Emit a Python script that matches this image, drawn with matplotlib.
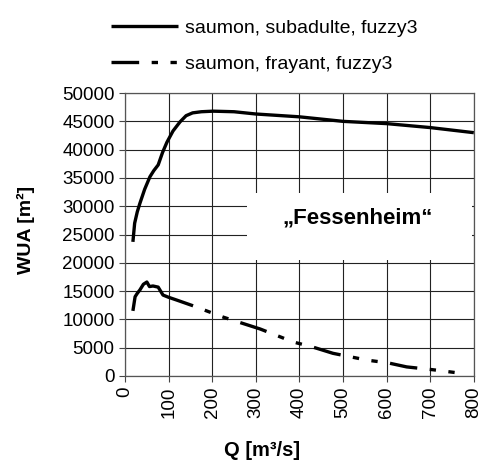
import matplotlib.pyplot as plt
from matplotlib.patches import Rectangle
from matplotlib.lines import Line2D
import numpy as np

# discharge Q [m3/s] and WUA [m2]
q_sub = [18, 22, 28, 34, 45, 57, 66, 76, 86, 96, 110, 126, 140, 155, 175, 202,
         250, 300, 400, 500, 600, 700, 800]
wua_sub = [23700, 27000, 29000, 30500, 33000, 35200, 36300, 37300, 39500, 41300,
           43300, 44900, 46000, 46500, 46700, 46800, 46700, 46300, 45800, 45000,
           44600, 43900, 43000]

q_fray = [18, 20, 23, 28, 34, 42, 50, 56, 64, 76, 87, 100, 119, 156, 225, 310,
          386, 431, 477, 555, 604, 646, 706, 768]
wua_fray = [11500, 12500, 14000, 14600, 15200, 16200, 16600, 15800, 15900, 15700,
            14300, 13900, 13400, 12400, 10400, 8300, 6000, 5100, 4000, 2800,
            2300, 1600, 1100, 500]

labels = ['saumon, subadulte, fuzzy3', 'saumon, frayant, fuzzy3']
xticks = np.arange(0, 801, 100)
yticks = np.arange(0, 50001, 5000)

plt.rcParams['font.family'] = ['Liberation Sans', 'DejaVu Sans']

fig = plt.figure(figsize=(4.81, 4.63), dpi=100)
ax = fig.add_axes([0.26, 0.188, 0.725, 0.611])

lw = 2.4
pattern = (8.3, 3.75, 1.9, 3.75, 1.9, 3.75)
l1, = ax.plot(q_sub, wua_sub, color='black', lw=lw, label=labels[0],
              solid_capstyle='butt', zorder=3)
# first stretch of the spawning curve is drawn solid, the rest dash-dot-dot
k = q_fray.index(156)
ax.plot(q_fray[:k + 1], wua_fray[:k + 1], color='black', lw=lw,
        solid_capstyle='butt', zorder=3)
ax.plot(q_fray[k:], wua_fray[k:], color='black', lw=lw,
        linestyle=(pattern[0], pattern), dash_capstyle='butt', zorder=3)
l2 = Line2D([], [], color='black', lw=lw, linestyle=(0, pattern),
            dash_capstyle='butt', label=labels[1])

ax.set_xlim(0, 800)
ax.set_ylim(0, 50000)
ax.set_xticks(xticks)
ax.set_yticks(yticks)
ax.set_xticklabels([str(v) for v in xticks], rotation=90)
ax.tick_params(labelsize=13.5, length=4, width=0.8, color='#444444')
ax.grid(True, color='#222222', lw=0.8)
ax.set_axisbelow(True)
for s in ax.spines.values():
    s.set_color('#555555')
    s.set_linewidth(0.9)

# white patch behind the site name hides the grid
ax.add_patch(Rectangle((0.35, 0.41), 0.645, 0.237, transform=ax.transAxes,
                       fc='white', ec='none', zorder=1))
ax.text(0.668, 0.56, '\u201eFessenheim\u201c', transform=ax.transAxes,
        ha='center', va='center', fontsize=16, fontweight='bold', zorder=2)

fig.text(26 / 481, 1 - 230 / 463, 'WUA [m\u00b2]', rotation=90, ha='center',
         va='center', fontsize=14, fontweight='bold')
fig.text(262 / 481, 1 - 450 / 463, 'Q [m\u00b3/s]', ha='center', va='center',
         fontsize=14.5, fontweight='bold')

fig.legend(handles=[l1, l2], loc='upper left', bbox_to_anchor=(0.195, 0.997),
           frameon=False, fontsize=14, handlelength=3.45, handletextpad=0.35,
           labelspacing=0.95)

fig.savefig('out.png', dpi=100)
